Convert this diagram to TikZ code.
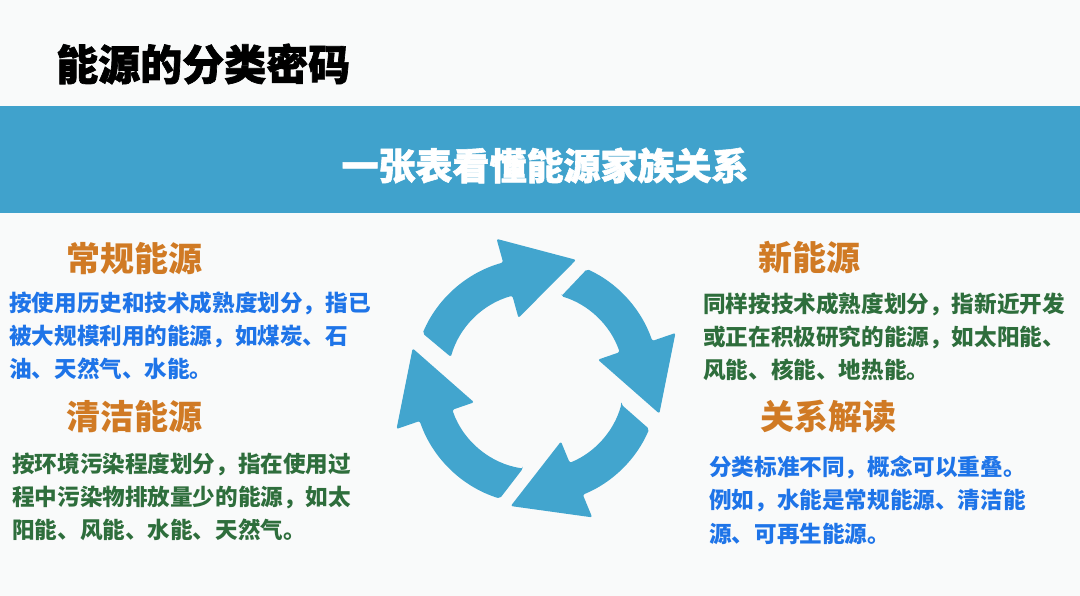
\documentclass[tikz,border=0pt]{standalone}
\usepackage{fontspec}
\newfontfamily\cjk{Noto Sans CJK SC}
\newfontfamily\cjkheavy{Noto Sans CJK SC}[BoldFeatures={FakeBold=1.6}]
\usetikzlibrary{positioning,calc}

\definecolor{pagebg}{RGB}{249,250,250}
\definecolor{bandblue}{RGB}{64,162,204}
\definecolor{arrowblue}{RGB}{66,165,206}
\definecolor{headorange}{RGB}{208,122,36}
\definecolor{textblue}{RGB}{30,116,232}
\definecolor{textgreen}{RGB}{46,110,60}

\begin{document}
\begin{tikzpicture}[x=1pt,y=1pt,
  heading/.style={anchor=west,inner sep=0pt,text=headorange,font=\cjk\bfseries\fontsize{34}{40}\selectfont},
  blurb/.style={anchor=north west,inner sep=0pt,align=left,font=\cjk\bfseries\fontsize{22.6}{33.3}\selectfont},
  cyclearrow/.style={fill=arrowblue,rounded corners=2pt}]
  \fill[pagebg] (0,0) rectangle (1080,596);
  \useasboundingbox (0,0) rectangle (1080,596);

  % title and band
  \node[anchor=west,inner sep=0pt,font=\cjkheavy\bfseries\fontsize{42}{48}\selectfont] (title) at (56,532) {能源的分类密码};
  \fill[bandblue] (0,383) rectangle (1080,490);
  \node[inner sep=0pt,text=white,font=\cjkheavy\bfseries\fontsize{37}{42}\selectfont] (banner) at (545,430.5) {一张表看懂能源家族关系};

  % four blocks
  \node[heading] (conv) at (66.5,337) {常规能源};
  \node[blurb,text=textblue] (convtext) at (9,304.7) {按使用历史和技术成熟度划分，指已\\被大规模利用的能源，如煤炭、石\\油、天然气、水能。};
  \node[heading] (clean) at (66.5,179) {清洁能源};
  \node[blurb,text=textgreen] (cleantext) at (12,143.5) {按环境污染程度划分，指在使用过\\程中污染物排放量少的能源，如太\\阳能、风能、水能、天然气。};
  \node[heading] (new) at (758.5,338) {新能源};
  \node[blurb,text=textgreen] (newtext) at (703,303.5) {同样按技术成熟度划分，指新近开发\\或正在积极研究的能源，如太阳能、\\风能、核能、地热能。};
  \node[heading] (link) at (760,179) {关系解读};
  \node[blurb,text=textblue] (linktext) at (709,140.4) {分类标准不同，概念可以重叠。\\例如，水能是常规能源、清洁能\\源、可再生能源。};

  % ring of arrows
  \begin{scope}[shift={(536,215)}]
    \foreach \h/\o/\i in {105.5/157.2/164.2, 19/65.5/73.4, -67.6/-23/-15.4, -161/-107.1/-98.5}
      \fill[cyclearrow] (\i:88.5) -- (\o:123) arc[start angle=\o, end angle=\h, radius=123pt]
        -- (\h:147.5) -- ($(\h:106)+(\h-90:71)$) -- (\h:65.5) -- (\h:88.5)
        arc[start angle=\h, end angle=\i, radius=88.5pt] -- cycle;
  \end{scope}
\end{tikzpicture}
\end{document}
